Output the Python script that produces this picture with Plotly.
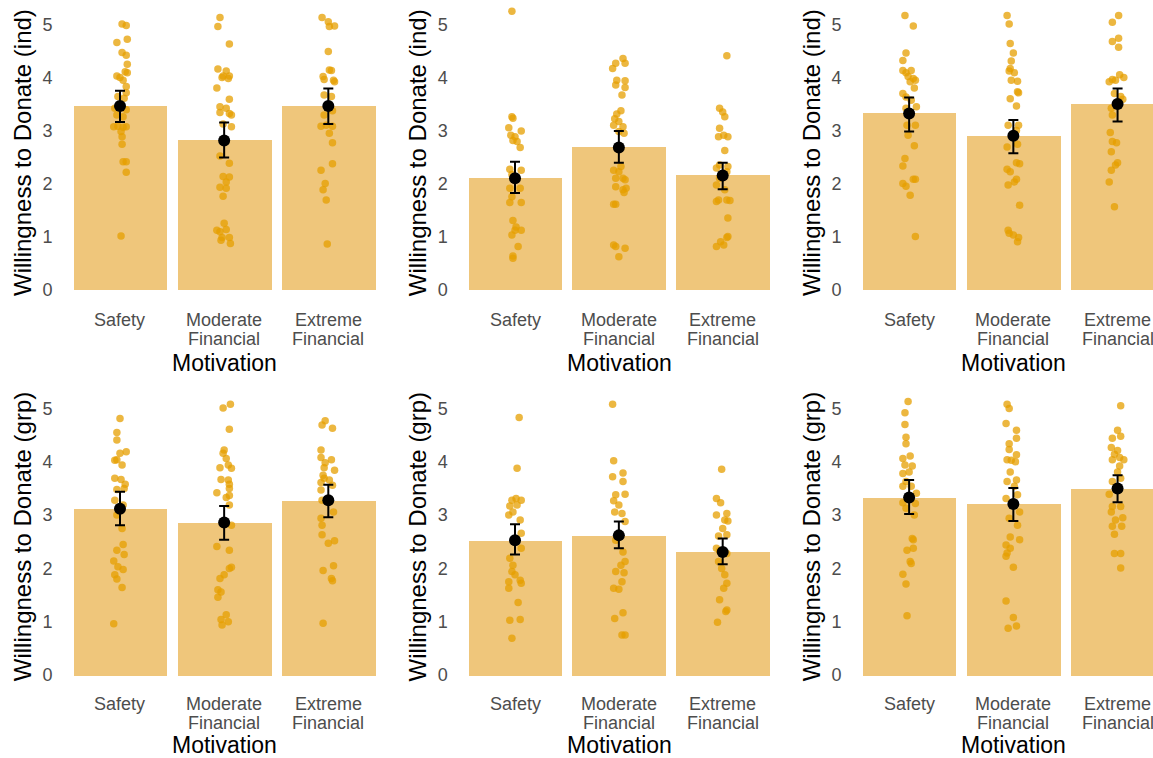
import plotly.graph_objects as go

# ---------------- data ----------------
CAT_LINE1 = ["Safety", "Moderate", "Extreme"]
CAT_LINE2 = ["", "Financial", "Financial"]
Y_TITLES = ["Willingness to Donate (ind)", "Willingness to Donate (grp)"]
X_TITLE = "Motivation"
Y_TICKS = [0, 1, 2, 3, 4, 5]

# means and 95% CI bounds per panel: [Safety, Moderate, Extreme]
MEANS = [[3.47, 2.82, 3.47], [2.11, 2.69, 2.16], [3.33, 2.91, 3.51],
         [3.12, 2.86, 3.28], [2.53, 2.62, 2.31], [3.33, 3.21, 3.50]]
CI_LO = [[3.17, 2.50, 3.13], [1.83, 2.40, 1.90], [2.99, 2.58, 3.18],
         [2.81, 2.54, 2.96], [2.26, 2.38, 2.08], [3.02, 2.89, 3.24]]
CI_HI = [[3.76, 3.16, 3.80], [2.42, 3.00, 2.40], [3.63, 3.21, 3.80],
         [3.44, 3.17, 3.57], [2.83, 2.88, 2.56], [3.66, 3.51, 3.75]]

# individual responses: (value, jitter offset in category units)
P1_SAFETY = [(5.02, 0.02), (4.99, 0.06), (4.67, -0.03), (4.73, 0.07), (4.48, 0.02), (4.43, 0.06), (4.26, 0.07),
             (4.12, 0.05), (4.10, 0.07), (4.04, -0.03), (4.01, 0.0), (3.96, 0.03), (3.84, 0.06), (3.65, -0.02),
             (3.62, 0.04), (3.72, 0.06), (3.43, -0.05), (3.40, 0.06), (3.30, -0.03), (3.27, 0.03), (3.08, -0.06),
             (3.09, -0.02), (3.07, 0.03), (3.08, 0.06), (2.99, 0.01), (2.89, 0.02), (2.75, 0.02), (2.42, 0.03),
             (2.42, 0.06), (2.22, 0.06), (1.02, 0.01)]
P1_MODERATE = [(5.14, -0.04), (4.97, -0.06), (4.64, 0.05), (4.17, -0.06), (4.13, 0.02), (4.04, 0.05), (4.04, -0.01),
               (3.99, 0.04), (4.01, -0.02), (3.81, -0.07), (3.60, 0.05), (3.46, -0.04), (3.43, 0.02), (3.33, 0.05),
               (3.35, -0.04), (3.30, 0.07), (3.13, -0.01), (3.08, 0.07), (2.53, -0.04), (2.39, 0.05), (2.14, -0.01),
               (2.13, 0.05), (2.04, 0.02), (1.94, -0.04), (1.92, 0.02), (1.77, -0.01), (1.26, 0.0), (1.13, -0.07),
               (1.10, -0.04), (1.14, 0.02), (0.99, -0.02), (0.99, 0.05), (0.88, 0.06), (0.94, -0.03)]
P1_EXTREME = [(5.14, -0.06), (5.06, 0.0), (4.97, 0.01), (4.98, 0.06), (4.50, 0.0), (4.15, 0.01), (4.14, 0.03),
              (4.03, -0.05), (3.97, -0.04), (3.96, 0.05), (3.93, 0.06), (3.68, -0.04), (3.65, 0.03), (3.30, -0.04),
              (3.38, 0.04), (3.09, -0.07), (3.11, -0.02), (3.09, 0.04), (2.96, 0.01), (2.78, 0.04), (2.38, 0.04),
              (2.26, -0.07), (2.01, -0.03), (1.89, -0.05), (1.70, -0.02), (0.87, -0.01)]

P2_SAFETY = [(5.26, -0.03), (3.27, -0.03), (3.24, -0.02), (3.06, -0.06), (3.00, 0.06), (2.92, -0.04), (2.89, 0.0),
             (2.82, -0.02), (2.80, 0.02), (2.69, 0.05), (2.28, -0.05), (2.26, 0.06), (2.18, -0.03), (1.92, -0.05),
             (1.92, 0.05), (1.76, -0.03), (1.65, -0.05), (1.65, 0.06), (1.31, -0.02), (1.19, 0.01), (1.13, 0.0),
             (1.13, 0.06), (1.04, -0.03), (0.82, 0.03), (0.64, -0.02), (0.60, -0.02)]
P2_MODERATE = [(4.37, 0.04), (4.28, 0.06), (4.28, -0.03), (4.18, -0.06), (3.96, -0.02), (3.95, 0.06), (3.87, -0.03),
               (3.82, 0.06), (3.68, 0.03), (3.38, 0.02), (3.32, -0.02), (3.23, -0.04), (3.18, 0.0), (3.11, -0.05),
               (3.08, 0.04), (2.99, 0.0), (2.96, 0.05), (2.33, 0.02), (2.26, -0.05), (2.23, 0.0), (2.11, -0.03),
               (2.11, 0.04), (2.08, 0.06), (1.95, -0.03), (1.89, 0.04), (1.92, 0.07), (1.84, 0.05), (1.62, -0.05),
               (1.62, -0.03), (0.85, -0.05), (0.82, -0.03), (0.79, 0.06), (0.63, 0.0)]
P2_EXTREME = [(4.42, 0.04), (3.43, -0.03), (3.36, 0.0), (3.27, 0.02), (3.05, -0.03), (2.89, -0.04), (2.92, 0.01),
              (2.89, 0.05), (2.63, 0.02), (2.36, -0.03), (2.33, 0.05), (2.30, -0.06), (2.23, 0.04), (2.11, -0.03),
              (1.98, -0.06), (1.89, 0.02), (1.70, -0.04), (1.67, -0.06), (1.70, 0.04), (1.69, 0.07), (1.36, 0.05),
              (1.01, 0.05), (0.99, 0.04), (0.91, -0.02), (0.85, 0.01), (0.82, -0.06)]

P3_SAFETY = [(5.18, -0.04), (4.98, 0.04), (4.47, -0.03), (4.33, -0.06), (4.14, -0.06), (4.10, -0.03), (4.14, 0.02),
             (4.03, -0.01), (3.99, 0.04), (3.96, 0.06), (3.93, 0.01), (3.71, -0.06), (3.81, 0.05), (3.64, -0.03),
             (3.58, 0.02), (3.46, 0.07), (3.43, -0.03), (3.11, 0.06), (3.11, -0.02), (2.92, -0.01), (2.72, 0.05),
             (2.48, -0.04), (2.34, -0.06), (2.09, 0.04), (2.09, 0.06), (2.01, -0.06), (1.96, -0.03), (1.79, 0.01),
             (1.01, 0.06)]
P3_MODERATE = [(5.18, -0.06), (5.02, -0.04), (4.65, -0.03), (4.47, 0.0), (4.32, -0.02), (4.18, -0.03), (4.13, -0.04),
               (4.10, 0.01), (3.94, 0.04), (3.96, -0.02), (3.74, 0.04), (3.72, 0.05), (3.61, -0.03), (3.47, 0.03),
               (3.11, -0.05), (3.11, 0.05), (3.01, 0.03), (2.70, -0.06), (2.75, 0.04), (2.40, 0.03), (2.38, 0.06),
               (2.28, -0.06), (2.23, -0.03), (2.09, 0.03), (2.04, 0.01), (1.98, -0.05), (1.60, 0.06), (1.13, -0.05),
               (1.07, -0.04), (1.04, 0.0), (0.99, 0.05), (0.91, 0.04)]
P3_EXTREME = [(5.18, 0.01), (5.05, -0.05), (4.75, 0.01), (4.69, -0.05), (4.58, 0.01), (3.97, -0.05), (4.06, 0.02),
              (4.01, 0.06), (3.93, -0.08), (3.96, -0.02), (3.71, -0.03), (3.65, 0.03), (3.60, 0.05), (3.43, -0.06),
              (3.30, -0.05), (2.97, -0.07), (2.80, -0.05), (2.78, -0.01), (2.61, -0.06), (2.40, 0.0), (2.36, -0.02),
              (2.26, -0.06), (2.04, -0.08), (1.57, -0.03)]

P4_SAFETY = [(4.81, 0.0), (4.55, -0.03), (4.41, -0.03), (4.19, 0.06), (4.16, 0.0), (4.03, -0.05), (4.04, -0.03),
             (3.94, 0.02), (3.69, -0.05), (3.67, 0.01), (3.58, 0.05), (3.50, 0.04), (3.48, -0.03), (3.28, -0.05),
             (3.19, 0.03), (3.00, -0.03), (2.75, 0.02), (2.45, 0.03), (2.34, -0.03), (2.26, 0.04), (2.14, -0.06),
             (2.03, -0.02), (1.98, 0.03), (1.88, -0.05), (1.80, -0.03), (1.64, 0.02), (0.96, -0.06)]
P4_MODERATE = [(5.08, 0.06), (5.01, -0.01), (4.61, 0.05), (4.22, 0.0), (4.16, -0.01), (4.06, 0.02), (3.94, 0.04),
               (3.89, -0.04), (3.88, 0.07), (3.67, -0.03), (3.66, 0.04), (3.58, 0.05), (3.50, 0.05), (3.42, -0.07),
               (3.37, 0.05), (3.33, 0.02), (3.19, 0.05), (2.81, 0.07), (2.41, -0.07), (2.34, 0.05), (2.02, 0.07),
               (2.00, 0.05), (1.88, 0.0), (1.81, -0.04), (1.60, -0.06), (1.56, -0.03), (1.46, -0.06), (1.13, 0.02),
               (1.04, -0.03), (1.00, 0.04), (0.94, -0.02)]
P4_EXTREME = [(4.77, -0.03), (4.69, -0.06), (4.63, 0.04), (4.22, -0.07), (4.08, -0.07), (4.04, 0.03), (3.98, -0.03),
              (3.89, -0.04), (3.84, 0.06), (3.75, -0.05), (3.69, -0.04), (3.66, 0.01), (3.61, -0.07), (3.56, 0.04),
              (3.47, -0.07), (3.28, -0.06), (3.06, 0.05), (2.94, -0.07), (2.81, -0.06), (2.63, -0.06), (2.47, 0.0),
              (2.52, 0.06), (2.05, 0.05), (1.96, -0.05), (1.81, 0.03), (1.77, 0.04), (0.97, -0.05)]

P5_SAFETY = [(4.83, 0.04), (3.88, 0.02), (3.31, 0.01), (3.28, 0.06), (3.28, -0.03), (3.17, -0.05), (3.19, 0.02),
             (3.00, -0.06), (3.06, -0.02), (2.91, 0.05), (2.66, 0.06), (2.38, 0.06), (2.19, -0.05), (2.06, -0.02),
             (1.94, -0.03), (1.88, 0.0), (1.75, -0.06), (1.78, 0.05), (1.72, 0.06), (1.63, -0.06), (1.36, 0.03),
             (1.03, -0.05), (1.04, 0.05), (0.69, -0.03)]
P5_MODERATE = [(5.08, -0.06), (4.02, -0.05), (3.79, 0.04), (3.72, -0.06), (3.63, 0.04), (3.39, 0.06), (3.38, -0.03),
               (3.27, -0.05), (3.19, 0.0), (3.06, -0.04), (3.03, 0.03), (2.88, 0.06), (2.53, -0.03), (2.31, 0.04),
               (2.13, 0.06), (2.06, 0.02), (1.94, -0.03), (1.92, 0.05), (1.75, 0.03), (1.63, -0.05), (1.61, 0.0),
               (1.17, 0.04), (1.06, -0.04), (0.75, 0.03), (0.75, 0.06)]
P5_EXTREME = [(3.86, -0.01), (3.31, -0.06), (3.23, -0.02), (3.00, -0.06), (3.03, 0.04), (2.91, 0.02), (2.89, 0.05),
              (2.75, 0.0), (2.61, -0.04), (2.63, 0.04), (2.38, -0.06), (2.33, -0.03), (2.28, 0.04), (2.13, -0.04),
              (2.00, -0.01), (1.88, 0.02), (1.72, 0.04), (1.63, 0.01), (1.41, -0.03), (1.22, 0.04), (1.19, 0.03),
              (0.99, -0.05)]

P6_SAFETY = [(5.13, -0.01), (4.92, -0.04), (4.70, -0.04), (4.46, -0.03), (4.34, -0.03), (4.11, 0.01), (4.06, -0.06),
             (3.94, -0.04), (3.92, 0.03), (3.78, -0.06), (3.81, 0.0), (3.63, -0.03), (3.54, -0.06), (3.54, 0.02),
             (3.41, 0.07), (3.23, -0.06), (3.22, 0.06), (3.13, -0.03), (3.00, 0.05), (2.56, 0.03), (2.54, 0.04),
             (2.38, 0.04), (2.34, -0.02), (2.13, 0.01), (2.09, 0.02), (1.89, -0.06), (1.71, -0.03), (1.11, -0.02)]
P6_MODERATE = [(5.08, -0.06), (5.00, -0.04), (4.72, -0.07), (4.59, 0.03), (4.44, 0.03), (4.34, -0.04), (4.23, -0.04),
               (4.13, 0.03), (4.04, -0.06), (4.03, -0.02), (4.00, 0.02), (3.81, -0.03), (3.63, -0.06), (3.66, 0.03),
               (3.54, 0.01), (3.31, -0.07), (3.38, 0.04), (3.06, 0.06), (2.94, -0.04), (2.81, 0.04), (2.59, -0.03),
               (2.54, 0.06), (2.44, -0.07), (2.38, -0.03), (2.29, -0.06), (2.23, -0.07), (2.02, 0.0), (1.39, -0.07),
               (1.08, 0.0), (0.92, 0.03), (0.88, -0.05)]
P6_EXTREME = [(5.05, 0.03), (4.59, 0.0), (4.48, 0.03), (4.44, -0.05), (4.27, -0.06), (4.21, 0.0), (4.14, -0.03),
              (4.08, 0.02), (4.04, 0.06), (4.04, -0.05), (3.92, 0.02), (3.81, 0.0), (3.69, 0.03), (3.63, -0.05),
              (3.39, -0.08), (3.16, -0.05), (3.16, 0.03), (3.06, -0.06), (2.95, 0.05), (2.91, -0.02), (2.79, -0.05),
              (2.79, 0.04), (2.64, -0.03), (2.28, -0.03), (2.28, 0.03), (2.01, 0.03)]

PANEL_POINTS = [
    [P1_SAFETY, P1_MODERATE, P1_EXTREME],
    [P2_SAFETY, P2_MODERATE, P2_EXTREME],
    [P3_SAFETY, P3_MODERATE, P3_EXTREME],
    [P4_SAFETY, P4_MODERATE, P4_EXTREME],
    [P5_SAFETY, P5_MODERATE, P5_EXTREME],
    [P6_SAFETY, P6_MODERATE, P6_EXTREME],
]

# ---------------- layout / style ----------------
W, H = 1153, 758
FONT = "Arial, 'Liberation Sans', sans-serif"
BAR_COLOR = "#EFC67B"
PT_COLOR = "rgba(230,159,0,0.75)"
TICK_COLOR = "#4D4D4D"
TICK_SIZE = 18

COL_PX = [(57.5, 390.8), (452.7, 785.0), (846.6, 1153.0)]
PANEL_W_PX = 333.3
X_RANGES = [[-0.6, 2.6], [-0.6, 2.6], [-0.6, 2.34]]
ROW_PX = [(1.15, 303.8), (384.5, 688.9)]
Y_RANGE = [-0.26, 5.45]
ROW_LABEL_PX = [(320, 339, 363), (704, 723, 745)]


def px_to_paper_y(py):
    return 1 - py / H


fig = go.Figure()
annotations = []
cat_idx = [0, 1, 2]

for p in range(6):
    r, c = divmod(p, 3)
    sfx = "" if p == 0 else str(p + 1)
    xa, ya = "x" + sfx, "y" + sfx

    fig.add_trace(go.Bar(x=cat_idx, y=MEANS[p], width=0.9, marker=dict(color=BAR_COLOR, line=dict(width=0)),
                         xaxis=xa, yaxis=ya, showlegend=False, hoverinfo="skip"))
    for g in range(3):
        pts = PANEL_POINTS[p][g]
        fig.add_trace(go.Scatter(x=[g + d for _, d in pts], y=[v for v, _ in pts], mode="markers",
                                 marker=dict(size=7.5, color=PT_COLOR, line=dict(width=0)),
                                 xaxis=xa, yaxis=ya, showlegend=False, cliponaxis=False))
    fig.add_trace(go.Scatter(
        x=cat_idx, y=MEANS[p], mode="markers",
        marker=dict(size=12, color="black"),
        error_y=dict(type="data", symmetric=False,
                     array=[h - m for h, m in zip(CI_HI[p], MEANS[p])],
                     arrayminus=[m - l for m, l in zip(MEANS[p], CI_LO[p])],
                     color="black", thickness=2, width=5),
        xaxis=xa, yaxis=ya, showlegend=False))

    x0, x1 = COL_PX[c]
    y0, y1 = ROW_PX[r]
    fig.layout["xaxis" + sfx] = dict(domain=[x0 / W, x1 / W], range=X_RANGES[c], anchor=ya,
                                     showgrid=False, zeroline=False, showline=False,
                                     showticklabels=False, ticks="", fixedrange=True)
    fig.layout["yaxis" + sfx] = dict(domain=[px_to_paper_y(y1), px_to_paper_y(y0)], range=Y_RANGE, anchor=xa,
                                     showgrid=False, zeroline=False, showline=False,
                                     tickvals=Y_TICKS, ticks="", ticklabelstandoff=4,
                                     tickfont=dict(size=TICK_SIZE, color=TICK_COLOR, family=FONT), fixedrange=True)

    l1, l2, lt = ROW_LABEL_PX[r]
    for g in range(3):
        annotations.append(dict(x=g, y=px_to_paper_y(l1), xref=xa, yref="paper", text=CAT_LINE1[g],
                                showarrow=False, xanchor="center", yanchor="middle",
                                font=dict(size=TICK_SIZE, color=TICK_COLOR, family=FONT)))
        if CAT_LINE2[g]:
            annotations.append(dict(x=g, y=px_to_paper_y(l2), xref=xa, yref="paper", text=CAT_LINE2[g],
                                    showarrow=False, xanchor="center", yanchor="middle",
                                    font=dict(size=TICK_SIZE, color=TICK_COLOR, family=FONT)))
    annotations.append(dict(x=(x0 + PANEL_W_PX / 2) / W, y=px_to_paper_y(lt), xref="paper", yref="paper",
                            text=X_TITLE, showarrow=False, xanchor="center", yanchor="middle",
                            font=dict(size=23, color="black", family=FONT)))
    annotations.append(dict(x=(x0 - 35) / W, y=px_to_paper_y((y0 + y1) / 2), xref="paper", yref="paper",
                            text=Y_TITLES[r], textangle=-90, showarrow=False, xanchor="center", yanchor="middle",
                            font=dict(size=24, color="black", family=FONT)))

fig.update_layout(width=W, height=H, margin=dict(l=0, r=0, t=0, b=0),
                  paper_bgcolor="white", plot_bgcolor="white", bargap=0,
                  annotations=annotations, font=dict(family=FONT))

fig.write_html("out.html", config={"displayModeBar": False},
               post_script="document.body.style.margin='0';document.body.style.overflow='hidden';")
